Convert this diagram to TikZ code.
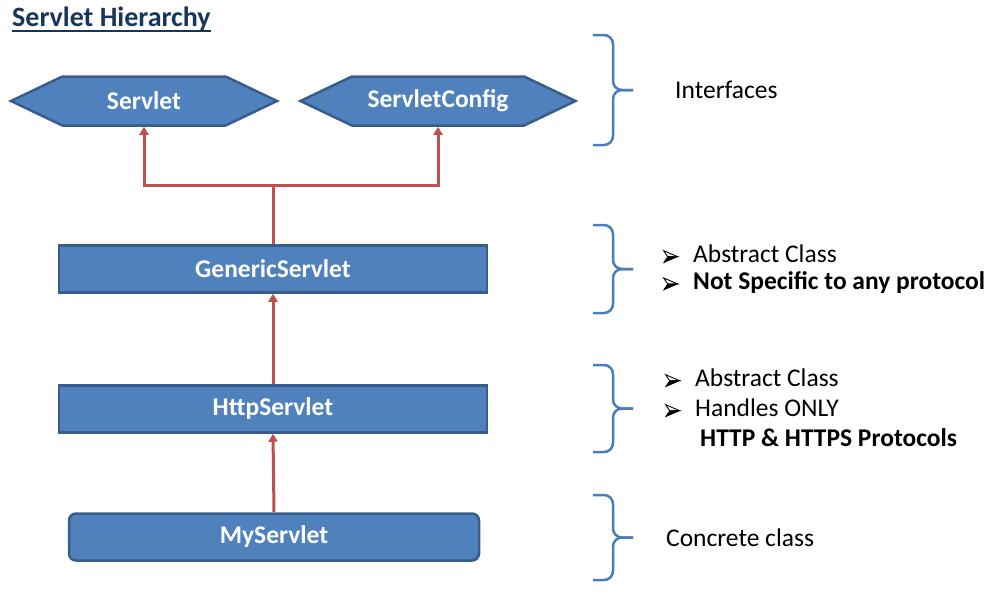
\documentclass[tikz,border=0pt]{standalone}
\usepackage{fontspec}
\setmainfont{Carlito}
\usetikzlibrary{arrows.meta,shapes.symbols}
\definecolor{boxblue}{HTML}{4F81BD}
\definecolor{edgeblue}{HTML}{385D8A}
\definecolor{linered}{HTML}{C0504D}
\definecolor{titleblue}{HTML}{17365D}
\definecolor{braceblue}{HTML}{4A7EBB}
\newcommand{\bul}{\makebox[30pt][l]{\tikz[baseline=-6pt, x=1pt, y=1pt]{
  \filldraw[black, line width=0.6pt] (4,0) -- (14,0) -- (0,-6) -- cycle;
  \draw[black, line width=0.9pt, line join=miter] (4,0) -- (14,0) -- (0,6) -- cycle;}}}

\begin{document}
\begin{tikzpicture}[x=1pt,y=-1pt,
  classbox/.style={draw=edgeblue, fill=boxblue, line width=2.5pt, text=white,
    font=\fontsize{25.5}{30}\selectfont\bfseries, minimum height=47pt,
    minimum width=428pt, inner sep=0pt},
  iface/.style={classbox, signal, signal to=west and east,
    signal pointer angle=51, minimum height=49pt},
  inh/.style={linered, line width=3pt, -{Triangle[width=9pt,length=8pt]}},
  brace/.style={braceblue, line width=2.5pt, rounded corners=9pt},
  note/.style={anchor=west, font=\fontsize{25.5}{30}\selectfont, inner sep=0pt}]
\useasboundingbox (0,0) rectangle (1007,597);

\node[anchor=base west, inner sep=0pt, text=titleblue,
  font=\fontsize{28}{32}\selectfont\bfseries] (title) at (12,27) {Servlet Hierarchy};
\draw[titleblue, line width=2.2pt] ([yshift=-4pt]title.base west) -- ([yshift=-4pt]title.base east);

\node[iface, minimum width=266pt] (servlet) at (144,101) {Servlet};
\node[iface, minimum width=275pt] (config) at (438,101) {ServletConfig};
\node[classbox] (generic) at (273,269) {GenericServlet};
\node[classbox] (http) at (273,409) {HttpServlet};
\node[classbox, rounded corners=7pt, minimum width=410pt] (my) at (274,537) {MyServlet};

\coordinate (join) at (273,185);
\draw[inh] (generic.north) -- (join) -| (servlet.south);
\draw[inh] (join) -| (config.south);
\draw[inh] (http.north) -- (generic.south);
\draw[inh] (my.north) -- (http.south);

% braces
\foreach \t/\b [evaluate=\t as \m using (\t+\b)/2] in {35/145,225/313,365/452,495/580} {
  \draw[brace] (593,\t) -- (613,\t) -- (613,\m) -- (633,\m);
  \draw[brace] (593,\b) -- (613,\b) -- (613,\m) -- (633,\m);
}

\node[note] (ifaces) at (675,90) {Interfaces};
\node[note] (gen1) at (663,254) {\bul Abstract Class};
\node[note] (gen2) at (663,283) {\bul\textbf{Not Specific to any protocol}};
\node[note] (http1) at (665,378) {\bul Abstract Class};
\node[note] (http2) at (665,408) {\bul Handles ONLY};
\node[note, font=\fontsize{25.5}{30}\selectfont\bfseries] (http3) at (700,438) {HTTP \& HTTPS Protocols};
\node[note] (concrete) at (666,538) {Concrete class};
\end{tikzpicture}
\end{document}
